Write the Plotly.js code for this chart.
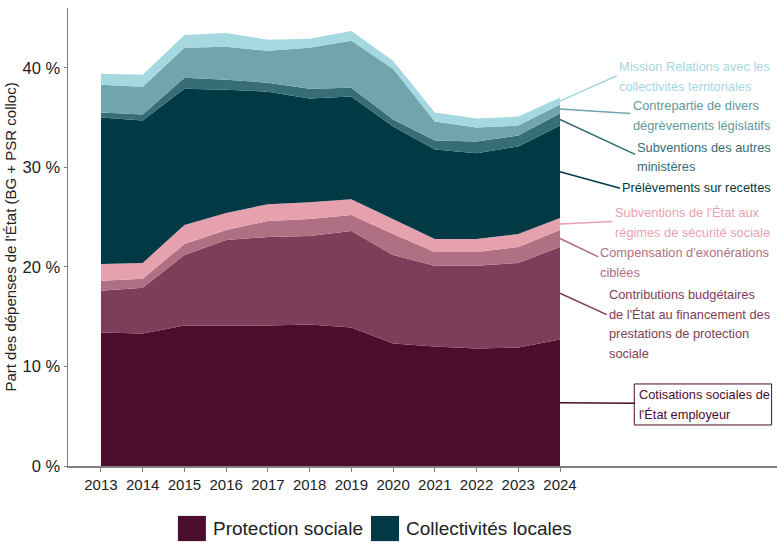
<!DOCTYPE html>
<html>
<head>
<meta charset="utf-8">
<script src="https://cdn.plot.ly/plotly-3.0.1.min.js"></script>
<style>html,body{margin:0;padding:0;background:#fff;}#chart{width:777px;height:542px;}</style>
</head>
<body>
<div id="chart"></div>
<script>
// ---- Data (parts des dépenses de l'État, en %) ----
const years = [2013, 2014, 2015, 2016, 2017, 2018, 2019, 2020, 2021, 2022, 2023, 2024];

const cotisations     = [13.4, 13.3, 14.1, 14.1, 14.1, 14.2, 13.9, 12.3, 12.0, 11.8, 11.9, 12.7];
const contributions   = [4.2, 4.6, 7.1, 8.6, 8.9, 8.9, 9.7, 8.9, 8.1, 8.3, 8.5, 9.3];
const compensation    = [1.0, 0.9, 1.1, 1.0, 1.6, 1.7, 1.6, 2.1, 1.4, 1.4, 1.6, 1.7];
const subvRegimes     = [1.7, 1.6, 1.9, 1.7, 1.7, 1.7, 1.6, 1.5, 1.3, 1.3, 1.3, 1.2];
const prelevements    = [14.7, 14.3, 13.7, 12.4, 11.3, 10.4, 10.3, 9.3, 9.0, 8.6, 8.8, 9.3];
const subvMinisteres  = [0.5, 0.6, 1.1, 1.0, 0.9, 1.0, 0.9, 0.7, 0.9, 1.2, 1.1, 1.2];
const contrepartie    = [2.8, 2.8, 3.0, 3.3, 3.2, 4.1, 4.7, 5.1, 1.9, 1.4, 1.0, 0.9];
const missionRCT      = [1.1, 1.2, 1.3, 1.4, 1.1, 0.9, 1.0, 0.8, 0.9, 0.9, 0.9, 0.7];

const seriesNames = [
  "Cotisations sociales de<br>l'État employeur",
  "Contributions budgétaires<br>de l'État au financement des<br>prestations de protection<br>sociale",
  "Compensation d'exonérations<br>ciblées",
  "Subventions de l'État aux<br>régimes de sécurité sociale",
  "Prélèvements sur recettes",
  "Subventions des autres<br>ministères",
  "Contrepartie de divers<br>dégrèvements législatifs",
  "Mission Relations avec les<br>collectivités territoriales"
];
const legendNames = ["Protection sociale", "Collectivités locales"];
const yTickVals = [0, 10, 20, 30, 40];
const yTickText = ["0 %", "10 %", "20 %", "30 %", "40 %"];

// ---- Styles ----
const seriesData = [cotisations, contributions, compensation, subvRegimes, prelevements, subvMinisteres, contrepartie, missionRCT];
const fills = ["#4A0D2B", "#7E3D58", "#B07083", "#E6A1AF", "#013A44", "#366D76", "#70A5AC", "#A5D9DF"];
const textColors = ["#4A0D2B", "#7E3D58", "#B07083", "#E8A3B2", "#013A44", "#366D76", "#5E9AA2", "#A5D9DF"];
// leader line end and text block (left x, centre y), in data units
const labelEnd = [[2025.8, 6.3], [2025.12, 15.2], [2024.92, 21.0], [2025.26, 24.55], [2025.44, 27.9], [2025.8, 31.3], [2025.69, 35.4], [2025.36, 39.2]];
const textPos  = [[2025.85, 6.2], [2025.12, 14.25], [2024.92, 20.45], [2025.26, 24.45], [2025.44, 27.95], [2025.8, 31.05], [2025.69, 35.2], [2025.36, 39.1]];

const FONT = "Liberation Sans, Arial, sans-serif";
const LINE_SP = 1.97; // line spacing in % units (~19.6 px)

const traces = seriesData.map((vals, i) => ({
  x: years, y: vals, type: 'scatter', mode: 'lines', stackgroup: 'one',
  line: {width: 0, color: fills[i]}, fillcolor: fills[i], name: seriesNames[i].replace(/<br>/g, ' '),
  showlegend: false, hoverinfo: 'x+y'
}));

const last = years.length - 1;
let cum = 0;
const mids = seriesData.map(vals => { const m = cum + vals[last] / 2; cum += vals[last]; return m; });

const shapes = [];
const annotations = [];
seriesData.forEach((vals, i) => {
  shapes.push({type: 'line', xref: 'x', yref: 'y', x0: years[last], y0: mids[i], x1: labelEnd[i][0], y1: labelEnd[i][1],
    line: {color: fills[i], width: 1.5}});
  const lines = seriesNames[i].split('<br>');
  const n = lines.length;
  lines.forEach((t, k) => {
    annotations.push({xref: 'x', yref: 'y', x: textPos[i][0], y: textPos[i][1] + ((n - 1) / 2 - k) * LINE_SP,
      text: t, showarrow: false, xanchor: 'left', yanchor: 'middle', align: 'left',
      font: {family: FONT, size: 12.8, color: textColors[i]}});
  });
});
// box around the "Cotisations" label
shapes.push({type: 'rect', xref: 'x', yref: 'y', x0: 2025.78, x1: 2029.07, y0: 4.12, y1: 8.24,
  line: {color: fills[0], width: 1}, fillcolor: 'rgba(0,0,0,0)'});

// custom legend
const legendX = [0.155, 0.4274];
const legendColors = [fills[0], fills[4]];
legendNames.forEach((nm, i) => {
  shapes.push({type: 'rect', xref: 'paper', yref: 'paper', x0: legendX[i], x1: legendX[i] + 0.0395, y0: -0.109, y1: -0.164,
    fillcolor: legendColors[i], line: {width: 0}});
  annotations.push({xref: 'paper', yref: 'paper', x: legendX[i] + 0.047, y: -0.1365, text: nm, showarrow: false,
    xanchor: 'left', yanchor: 'middle', font: {family: FONT, size: 19, color: '#222'}});
});

const layout = {
  width: 777, height: 542,
  margin: {l: 68, r: 0, t: 8, b: 76},
  paper_bgcolor: '#fff', plot_bgcolor: '#fff',
  showlegend: false,
  font: {family: FONT, color: '#222'},
  xaxis: {range: [2012.21, 2029.2], tickmode: 'array', tickvals: years, ticktext: years.map(String), showgrid: false, zeroline: false,
    showline: true, linecolor: '#808080', linewidth: 1.5, ticks: 'outside', ticklen: 4, tickcolor: '#808080',
    tickfont: {family: FONT, size: 15, color: '#222'}},
  yaxis: {range: [0, 46], tickmode: 'array', tickvals: yTickVals, ticktext: yTickText, showgrid: false, zeroline: false,
    showline: true, linecolor: '#808080', linewidth: 1.5, ticks: 'outside', ticklen: 3, tickcolor: '#808080',
    tickfont: {family: FONT, size: 16.5, color: '#222'},
    title: {text: "Part des dépenses de l'État (BG + PSR colloc)", font: {family: FONT, size: 15, color: '#222'}, standoff: 2}},
  shapes: shapes, annotations: annotations
};

Plotly.newPlot('chart', traces, layout, {displayModeBar: false, staticPlot: true});
</script>
</body>
</html>
